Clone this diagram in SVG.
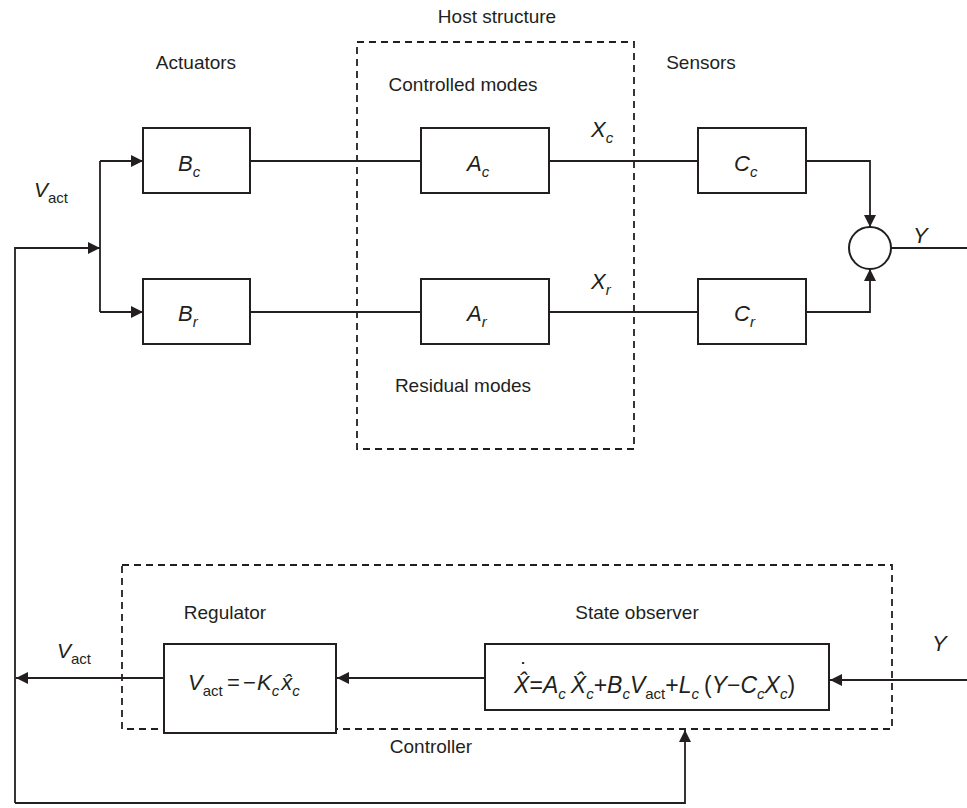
<svg xmlns="http://www.w3.org/2000/svg" width="967" height="808" viewBox="0 0 967 808">
<style>
.box{fill:#fff;stroke:#231f20;stroke-width:2}
.dash{fill:none;stroke:#231f20;stroke-width:1.8;stroke-dasharray:7 5}
.ln{fill:none;stroke:#231f20;stroke-width:1.8}
.lbl{font-family:"Liberation Sans",Arial,sans-serif;font-size:19px;fill:#231f20}
.it{font-family:"Liberation Sans",Arial,sans-serif;font-style:italic;font-size:22px;fill:#231f20}
.sub{font-size:15px}
.rm{font-style:normal}
</style>
<defs>
<marker id="ah" viewBox="0 0 12 12" refX="12" refY="6" markerWidth="12" markerHeight="12" markerUnits="userSpaceOnUse" orient="auto">
<path d="M0,0 L12,6 L0,12 Z" fill="#231f20"/>
</marker>
</defs>
<rect width="967" height="808" fill="#fff"/>

<g id="host-structure">
<rect class="dash" x="357" y="42" width="277" height="407"/>
<text class="lbl" x="497" y="23" text-anchor="middle">Host structure</text>
<text class="lbl" x="463" y="91" text-anchor="middle">Controlled modes</text>
<text class="lbl" x="463" y="392" text-anchor="middle">Residual modes</text>
</g>
<g id="controller">
<rect class="dash" x="122" y="565" width="770" height="164"/>
<text class="lbl" x="225" y="619" text-anchor="middle">Regulator</text>
<text class="lbl" x="637" y="619" text-anchor="middle">State observer</text>
<text class="lbl" x="431" y="753" text-anchor="middle">Controller</text>
</g>
<g id="labels">
<text class="lbl" x="196" y="69" text-anchor="middle">Actuators</text>
<text class="lbl" x="701" y="69" text-anchor="middle">Sensors</text>
<text class="it" x="34" y="197" style="font-size:21px">V<tspan class="sub rm" dy="6">act</tspan></text>
<text class="it" x="57" y="658" style="font-size:21px">V<tspan class="sub rm" dy="6">act</tspan></text>
<text class="it" x="591" y="137">X<tspan class="sub" dy="6">c</tspan></text>
<text class="it" x="591" y="289">X<tspan class="sub" dy="6">r</tspan></text>
<text class="it" x="913" y="243">Y</text>
<text class="it" x="932" y="651">Y</text>
</g>

<g id="connectors">
<polyline class="ln" points="100,161 100,312"/>
<polyline class="ln" points="100,161 143,161" marker-end="url(#ah)"/>
<polyline class="ln" points="100,312 143,312" marker-end="url(#ah)"/>
<polyline class="ln" points="15,803 15,248 100,248" marker-end="url(#ah)"/>
<polyline class="ln" points="250,161 421,161"/>
<polyline class="ln" points="250,312 421,312"/>
<polyline class="ln" points="549,161 698,161"/>
<polyline class="ln" points="549,312 698,312"/>
<polyline class="ln" points="806,161 870,161 870,227" marker-end="url(#ah)"/>
<polyline class="ln" points="806,312 870,312 870,269" marker-end="url(#ah)"/>
<polyline class="ln" points="891,248 967,248"/>
<polyline class="ln" points="967,680 830,680" marker-end="url(#ah)"/>
<polyline class="ln" points="485,678 337,678" marker-end="url(#ah)"/>
<polyline class="ln" points="164,678 16,678" marker-end="url(#ah)"/>
<polyline class="ln" points="15,803 685,803 685,730" marker-end="url(#ah)"/>
</g>

<g id="Bc"><rect class="box" x="143" y="128" width="107" height="65"/><text class="it" x="178" y="171">B<tspan class="sub" dy="6">c</tspan></text></g>
<g id="Br"><rect class="box" x="143" y="279" width="107" height="65"/><text class="it" x="178" y="321">B<tspan class="sub" dy="6">r</tspan></text></g>
<g id="Ac"><rect class="box" x="421" y="128" width="128" height="65"/><text class="it" x="467" y="171">A<tspan class="sub" dy="6">c</tspan></text></g>
<g id="Ar"><rect class="box" x="421" y="279" width="128" height="65"/><text class="it" x="467" y="321">A<tspan class="sub" dy="6">r</tspan></text></g>
<g id="Cc"><rect class="box" x="698" y="128" width="108" height="65"/><text class="it" x="734" y="171">C<tspan class="sub" dy="6">c</tspan></text></g>
<g id="Cr"><rect class="box" x="698" y="279" width="108" height="65"/><text class="it" x="734" y="321">C<tspan class="sub" dy="6">r</tspan></text></g>
<g id="sum"><circle cx="870" cy="248" r="21" fill="#fff" stroke="#231f20" stroke-width="2"/></g>

<g id="regulator">
<rect class="box" x="164" y="644" width="172" height="89"/>
<text class="it" x="188" y="690">V<tspan class="sub rm" dy="6">act</tspan><tspan class="rm" x="227" dy="-6">=</tspan><tspan class="rm" x="243">−</tspan><tspan x="257">K</tspan><tspan class="sub" dy="6">c</tspan><tspan dx="2" dy="-6">x&#x302;</tspan><tspan class="sub" dy="6">c</tspan></text>
</g>

<g id="observer">
<rect class="box" x="485" y="644" width="344" height="66"/>
<text class="it" x="514" y="693" style="font-size:23px">X&#x302;<tspan class="rm" dx="-9" dy="-14">&#x2D9;</tspan><tspan class="rm" dx="1.5" dy="14">=</tspan>A<tspan class="sub" dy="6">c</tspan><tspan dx="5" dy="-6">X&#x302;</tspan><tspan class="sub" dy="6">c</tspan><tspan class="rm" dy="-6">+</tspan>B<tspan class="sub" dy="6">c</tspan><tspan dy="-6">V</tspan><tspan class="sub rm" dy="6">act</tspan><tspan class="rm" dy="-6">+</tspan>L<tspan class="sub" dy="6">c</tspan><tspan class="rm" dx="5" dy="-6">(</tspan>Y<tspan class="rm">−</tspan>C<tspan class="sub" dy="6">c</tspan><tspan dy="-6">X</tspan><tspan class="sub" dy="6">c</tspan><tspan class="rm" dy="-6">)</tspan></text>
</g>
</svg>
